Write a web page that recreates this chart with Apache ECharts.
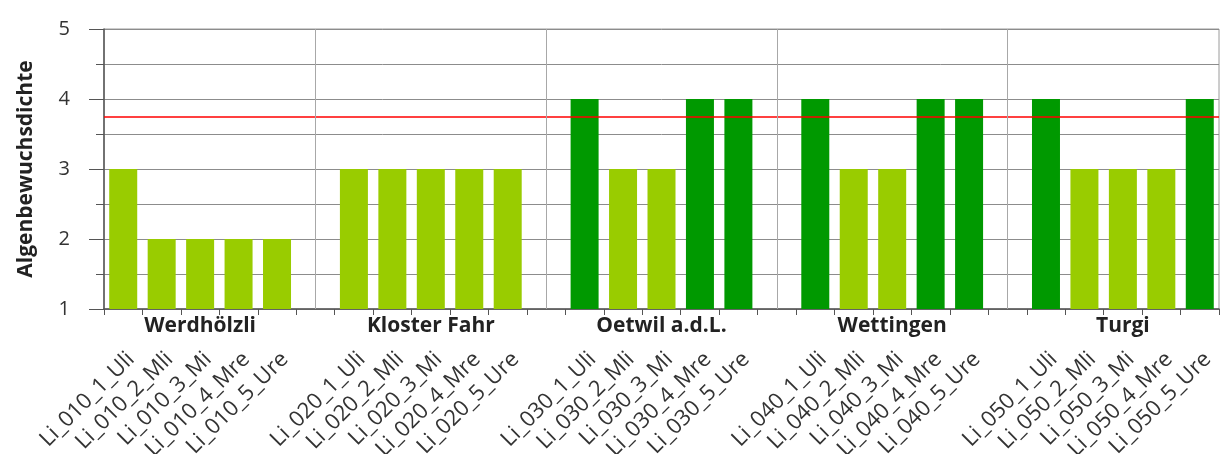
<!DOCTYPE html>
<html>
<head>
<meta charset="utf-8">
<script src="https://cdn.jsdelivr.net/npm/echarts@6/dist/echarts.min.js"></script>
<style>
  html, body { margin: 0; padding: 0; background: #fff; }
  #chart { width: 1221px; height: 454px; }
</style>
</head>
<body>
<div id="chart"></div>
<script>
// Standorte (Gruppen) und Probestellen
const groupNames = ['Werdhölzli', 'Kloster Fahr', 'Oetwil a.d.L.', 'Wettingen', 'Turgi']
const sampleLabels = [
  ['Li_010_1_Uli', 'Li_010_2_Mli', 'Li_010_3_Mi', 'Li_010_4_Mre', 'Li_010_5_Ure'],
  ['Li_020_1_Uli', 'Li_020_2_Mli', 'Li_020_3_Mi', 'Li_020_4_Mre', 'Li_020_5_Ure'],
  ['Li_030_1_Uli', 'Li_030_2_Mli', 'Li_030_3_Mi', 'Li_030_4_Mre', 'Li_030_5_Ure'],
  ['Li_040_1_Uli', 'Li_040_2_Mli', 'Li_040_3_Mi', 'Li_040_4_Mre', 'Li_040_5_Ure'],
  ['Li_050_1_Uli', 'Li_050_2_Mli', 'Li_050_3_Mi', 'Li_050_4_Mre', 'Li_050_5_Ure']
]
const values = [
  [3, 2, 2, 2, 2],
  [3, 3, 3, 3, 3],
  [4, 3, 3, 4, 4],
  [4, 3, 3, 4, 4],
  [4, 3, 3, 3, 4]
]
const threshold = 3.75
const yTicks = [1, 2, 3, 4, 5]

const lightGreen = '#99cc00'
const darkGreen = '#009900'

// Kategorien mit Leerplatz zwischen den Gruppen
let categories = []
let groupAxis = []
let barData = []
let gapNames = []
groupNames.forEach((g, gi) => {
  if (gi > 0) {
    const gap = '_gap' + gi
    categories.push(gap)
    groupAxis.push(gap)
    barData.push('-')
    gapNames.push(gap)
  }
  sampleLabels[gi].forEach((s, si) => {
    categories.push(s)
    groupAxis.push(si === 2 ? g : '_' + s)
    const v = values[gi][si]
    barData.push({
      value: v,
      itemStyle: { color: v > threshold ? darkGreen : lightGreen }
    })
  })
})

const hide = v => (v.charAt(0) === '_' ? '' : v)
const font = '"Open Sans", "Noto Sans", sans-serif'

const chart = echarts.init(document.getElementById('chart'))
chart.setOption({
  animation: false,
  grid: {
    left: 104,
    right: 2,
    top: 29,
    bottom: 145,
    outerBoundsMode: 'none',
    show: true,
    borderColor: '#9a9a9a',
    borderWidth: 1
  },
  xAxis: [
    {
      type: 'category',
      data: categories,
      position: 'bottom',
      axisLine: { lineStyle: { color: '#555', width: 1.5 } },
      axisTick: { show: true, interval: 0, length: 6, lineStyle: { color: '#555' } },
      axisLabel: {
        interval: 0,
        rotate: 45,
        margin: 39,
        verticalAlign: 'top',
        fontSize: 22,
        fontFamily: font,
        color: '#333',
        formatter: hide
      },
      splitLine: { show: false }
    },
    {
      type: 'category',
      data: groupAxis,
      position: 'bottom',
      axisLine: { show: false },
      axisTick: { show: false },
      axisLabel: {
        interval: 0,
        margin: 7,
        fontSize: 21,
        fontWeight: 'bold',
        fontFamily: font,
        color: '#222',
        formatter: hide
      },
      splitLine: { show: false }
    }
  ],
  yAxis: {
    type: 'value',
    min: yTicks[0],
    max: yTicks[yTicks.length - 1],
    interval: 1,
    name: 'Algenbewuchsdichte',
    nameLocation: 'middle',
    nameGap: 67,
    nameTextStyle: { fontSize: 21, fontWeight: 'bold', fontFamily: font, color: '#222' },
    axisLine: { show: true, lineStyle: { color: '#555', width: 1.5 } },
    axisTick: { show: true, length: 15, lineStyle: { color: '#555' } },
    minorTick: { show: true, splitNumber: 2, length: 8, lineStyle: { color: '#555' } },
    axisLabel: { fontSize: 20, fontFamily: font, color: '#333', margin: 34 },
    splitLine: { show: true, lineStyle: { color: '#8c8c8c', width: 1 } },
    minorSplitLine: { show: true, lineStyle: { color: '#8c8c8c', width: 1 } }
  },
  series: [
    {
      type: 'bar',
      data: barData,
      barWidth: 28,
      clip: true,
      markLine: {
        silent: true,
        symbol: 'none',
        label: { show: false },
        data: [
          { yAxis: threshold, lineStyle: { color: '#ff0000', width: 1.5, type: 'solid' } }
        ].concat(gapNames.map(g => ({
          xAxis: g,
          lineStyle: { color: '#a8a8a8', width: 1, type: 'solid' }
        })))
      }
    }
  ]
})
</script>
</body>
</html>
